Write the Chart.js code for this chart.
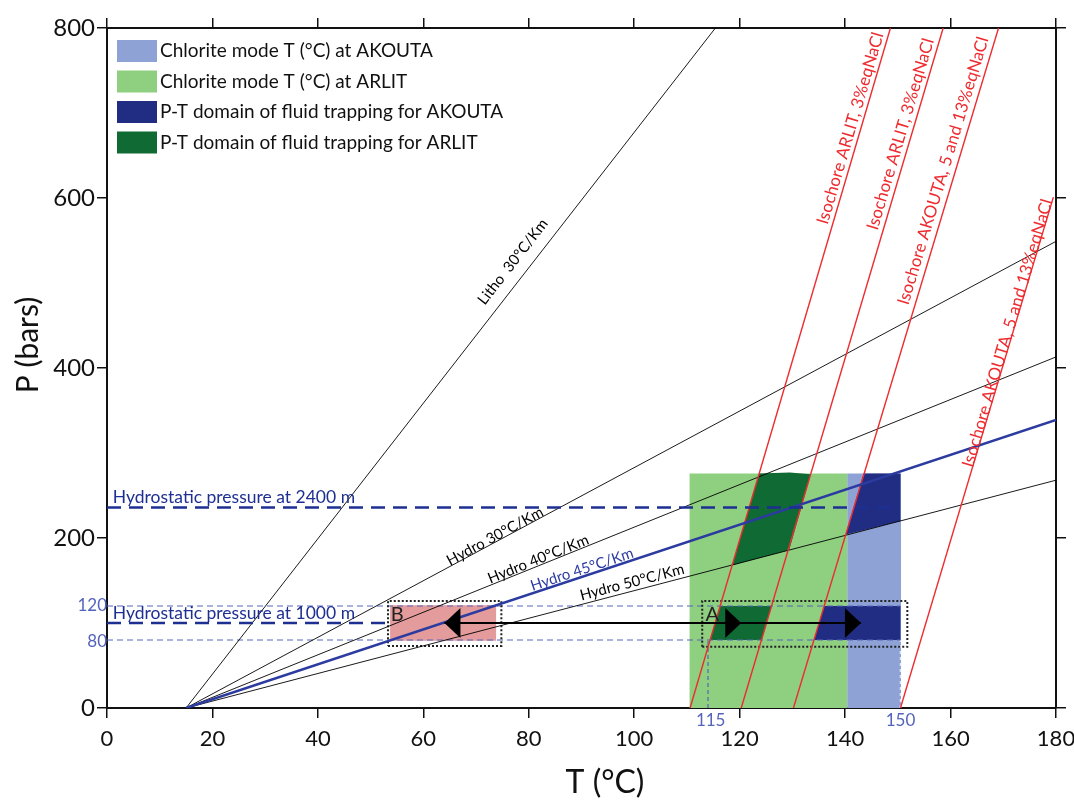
<!DOCTYPE html>
<html>
<head>
<meta charset="utf-8">
<script src="https://cdn.jsdelivr.net/npm/chart.js@4.4.0/dist/chart.umd.min.js"></script>
<style>
html,body{margin:0;padding:0;background:#fff;}
#wrap{width:1074px;height:805px;position:relative;}
</style>
</head>
<body>
<div id="wrap"><canvas id="c" width="1074" height="805"></canvas></div>
<script>
// ---------- DATA ----------
const xTicks = [0, 20, 40, 60, 80, 100, 120, 140, 160, 180];
const yTicks = [0, 200, 400, 600, 800];

// Geothermal gradients  {T (°C), P (bars)}
const litho30 = [{x:15, y:0}, {x:115.4, y:800}];
const hydro30 = [{x:15, y:0}, {x:180, y:549}];
const hydro40 = [{x:15, y:0}, {x:180, y:413}];
const hydro45 = [{x:15, y:0}, {x:180, y:339}];
const hydro50 = [{x:15, y:0}, {x:180, y:268}];

// Isochores
const isoArlitA  = [{x:110.6, y:0}, {x:148.6, y:800}];
const isoArlitB  = [{x:120.3, y:0}, {x:158.6, y:800}];
const isoAkoutaA = [{x:130.2, y:0}, {x:169.1, y:800}];
const isoAkoutaB = [{x:150.5, y:0}, {x:179.5, y:601}];

// Chlorite mode temperature domains
const chloriteArlit  = [{x:110.5,y:0},{x:140.4,y:0},{x:140.4,y:276},{x:110.5,y:276},{x:110.5,y:0}];
const chloriteAkouta = [{x:140.4,y:0},{x:150.6,y:0},{x:150.6,y:276},{x:140.4,y:276},{x:140.4,y:0}];

// P-T domains of fluid trapping
const trapArlitHigh  = [{x:118.6,y:168},{x:123.7,y:276},{x:129.5,y:277},{x:133.5,y:275},{x:129.4,y:186},{x:118.6,y:168}];
const trapAkoutaHigh = [{x:140.1,y:204},{x:143.5,y:276},{x:150.5,y:276},{x:150.5,y:220},{x:140.1,y:204}];
const trapArlitLow   = [{x:114.4,y:80},{x:116.3,y:120},{x:126.1,y:120},{x:124.2,y:80},{x:114.4,y:80}];
const trapAkoutaLow  = [{x:134.1,y:80},{x:136,y:120},{x:150.5,y:120},{x:150.5,y:80},{x:134.1,y:80}];

// Zones A and B
const zoneB   = [{x:53.7,y:79},{x:73.8,y:79},{x:73.8,y:121},{x:53.7,y:121},{x:53.7,y:79}];
const boxB    = [{x:53.3,y:73},{x:74.8,y:73},{x:74.8,y:126},{x:53.3,y:126},{x:53.3,y:73}];
const boxA    = [{x:112.9,y:72},{x:151.8,y:72},{x:151.8,y:126},{x:112.9,y:126},{x:112.9,y:72}];

// Reference pressures
const p120 = [{x:0,y:120},{x:150.5,y:120}];
const p80  = [{x:0,y:80},{x:150.5,y:80}];
const hydrostatic1000 = [{x:0,y:100},{x:53.5,y:100}];
const hydrostatic2400 = [{x:0,y:236},{x:149,y:236}];
const t115 = [{x:114,y:0},{x:114,y:80}];
const t150 = [{x:150.5,y:0},{x:150.5,y:80}];

// Arrow B -> A
const arrowLine  = [{x:64,y:100},{x:143,y:100}];
const arrowLeftTips  = [64];
const arrowRightTips = [120.3, 143];

// Legend
const legendLabels = ['Chlorite mode T (°C) at AKOUTA','Chlorite mode T (°C) at ARLIT','P-T domain of fluid trapping for AKOUTA','P-T domain of fluid trapping for ARLIT'];

// ---------- STYLES ----------
const C = {
  lightBlue:'#8ea2d6', lightGreen:'#8fcf80', darkBlue:'#202d82', darkGreen:'#0f6a33',
  pink:'#e39b9b', red:'#ee2b2f', blue:'#2b3ba0', dashBlue:'#1e2f92', thinBlue:'#5564bb'
};
const legendColors = [C.lightBlue, C.lightGreen, C.darkBlue, C.darkGreen];
const FONT = 'Lato, "Open Sans", sans-serif';

function poly(data, color, order){
  return {data, showLine:true, fill:'shape', backgroundColor:color, borderColor:color, borderWidth:0, pointRadius:0, order};
}
function line(data, color, width, order, dash){
  return {data, showLine:true, fill:false, borderColor:color, borderWidth:width, pointRadius:0, order, borderDash:dash||[]};
}

const datasets = [
  poly(chloriteArlit, C.lightGreen, 20),
  poly(chloriteAkouta, C.lightBlue, 20),
  poly(trapArlitHigh, C.darkGreen, 19),
  poly(trapAkoutaHigh, C.darkBlue, 19),
  poly(trapArlitLow, C.darkGreen, 19),
  poly(trapAkoutaLow, C.darkBlue, 19),
  poly(zoneB, C.pink, 19),
  line(p120, C.thinBlue, 1, 15, [6,4]),
  line(p80, C.thinBlue, 1, 15, [6,4]),
  line(t115, C.thinBlue, 1.2, 15, [4,3]),
  line(t150, '#dfe6f6', 1.5, 15, [3,3]),
  line(boxB, '#222', 2, 14, [2,2]),
  line(boxA, '#222', 2, 14, [2,2]),
  line(litho30, '#000', 0.9, 10),
  line(hydro30, '#000', 0.9, 10),
  line(hydro40, '#000', 0.9, 10),
  line(hydro50, '#000', 0.9, 10),
  line(isoArlitA, C.red, 1.4, 9),
  line(isoArlitB, C.red, 1.4, 9),
  line(isoAkoutaA, C.red, 1.4, 9),
  line(isoAkoutaB, C.red, 1.4, 9),
  line(hydro45, C.blue, 2.5, 8),
  line(hydrostatic1000, C.dashBlue, 2.5, 7, [14,8]),
  line(hydrostatic2400, C.dashBlue, 2.5, 7, [14,8]),
  line(arrowLine, '#000', 2, 6)
];

// ---------- ANNOTATIONS (text along lines etc.) ----------
const lineLabels = [
  {text:'Litho  30°C/Km', line:litho30, at:{x:77,y:525}, color:'#000', size:15},
  {text:'Hydro 30°C/Km', line:hydro30, at:{x:73.6,y:202}, color:'#000', size:15},
  {text:'Hydro 40°C/Km', line:hydro40, at:{x:81.8,y:175}, color:'#000', size:15},
  {text:'Hydro 45°C/Km', line:hydro45, at:{x:90.1,y:163}, color:C.blue, size:15},
  {text:'Hydro 50°C/Km', line:hydro50, at:{x:99.6,y:148}, color:'#000', size:15},
  {text:'Isochore ARLIT, 3%eqNaCl', line:isoArlitA, at:{x:141,y:682}, color:C.red, size:17},
  {text:'Isochore ARLIT, 3%eqNaCl', line:isoArlitB, at:{x:150.5,y:675}, color:C.red, size:17},
  {text:'Isochore AKOUTA, 5 and 13%eqNaCl', line:isoAkoutaA, at:{x:158.6,y:632}, color:C.red, size:17},
  {text:'Isochore AKOUTA, 5 and 13%eqNaCl', line:isoAkoutaB, at:{x:170.8,y:441}, color:C.red, size:17}
];

const annotPlugin = {
  id:'annot',
  afterDatasetsDraw(chart){
    const ctx = chart.ctx, xs = chart.scales.x, ys = chart.scales.y;
    const X = v => xs.getPixelForValue(v), Y = v => ys.getPixelForValue(v);
    ctx.save();
    // arrow heads
    ctx.fillStyle = '#000';
    const hy = Y(arrowLine[0].y);
    arrowLeftTips.forEach(t => {
      const px = X(t);
      ctx.beginPath(); ctx.moveTo(px, hy); ctx.lineTo(px+16, hy-15); ctx.lineTo(px+16, hy+15); ctx.closePath(); ctx.fill();
    });
    arrowRightTips.forEach(t => {
      const px = X(t);
      ctx.beginPath(); ctx.moveTo(px, hy); ctx.lineTo(px-16, hy-15); ctx.lineTo(px-16, hy+15); ctx.closePath(); ctx.fill();
    });
    // rotated labels
    lineLabels.forEach(l => {
      const a = Math.atan2(Y(l.line[1].y)-Y(l.line[0].y), X(l.line[1].x)-X(l.line[0].x));
      ctx.save();
      ctx.translate(X(l.at.x), Y(l.at.y));
      ctx.rotate(a);
      ctx.font = l.size+'px '+FONT;
      ctx.fillStyle = l.color;
      ctx.textAlign = 'center'; ctx.textBaseline = 'middle';
      ctx.fillText(l.text, 0, 0);
      ctx.restore();
    });
    // flat texts
    ctx.font = '17.5px '+FONT;
    ctx.fillStyle = C.dashBlue;
    ctx.textAlign = 'left'; ctx.textBaseline = 'alphabetic';
    ctx.fillText('Hydrostatic pressure at 2400 m', X(1.1), Y(241));
    ctx.fillText('Hydrostatic pressure at 1000 m', X(1.1), Y(105));
    ctx.font = '20px '+FONT;
    ctx.fillStyle = '#222';
    ctx.textBaseline = 'middle';
    ctx.fillText('B', X(53.8), Y(110));
    ctx.fillText('A', X(113.5), Y(110));
    // blue tick values
    ctx.font = '17px '+FONT;
    ctx.fillStyle = C.thinBlue;
    ctx.textAlign = 'right';
    ctx.fillText('120', X(0), Y(121));
    ctx.fillText('80', X(0), Y(78));
    ctx.textAlign = 'center'; ctx.textBaseline = 'top';
    ctx.fillText('115', X(114.5), Y(0)+4);
    ctx.fillText('150', X(150.5), Y(0)+4);
    // legend
    ctx.textAlign = 'left'; ctx.textBaseline = 'middle';
    ctx.font = '19px '+FONT;
    legendLabels.forEach((t,i) => {
      const top = 40 + i*30.5;
      ctx.fillStyle = legendColors[i];
      ctx.fillRect(117, top, 40, 22);
      ctx.fillStyle = '#111';
      ctx.fillText(t, 160, top+11);
    });
    // axis titles
    ctx.fillStyle = '#111';
    ctx.font = '32px '+FONT;
    ctx.textAlign = 'center'; ctx.textBaseline = 'middle';
    ctx.fillText('T (°C)', 605, 783);
    ctx.font = '30px '+FONT;
    ctx.save();
    ctx.translate(28, 345); ctx.rotate(-Math.PI/2);
    ctx.fillText('P (bars)', 0, 0);
    ctx.restore();
    ctx.restore();
  }
};

function fixSize(prop, val){
  return function(s){ s[prop] = val; s.paddingLeft = 0; s.paddingRight = 0; s.paddingTop = 0; s.paddingBottom = 0; };
}
const tickGrid = {drawOnChartArea:false, drawTicks:true, tickLength:10, color:'#111', lineWidth:1.5};

new Chart(document.getElementById('c'), {
  type:'scatter',
  data:{datasets},
  options:{
    responsive:false, animation:false,
    layout:{padding:0},
    plugins:{legend:{display:false}, tooltip:{enabled:false}},
    elements:{line:{tension:0}},
    scales:{
      x:{type:'linear', position:'bottom', min:0, max:180,
        afterBuildTicks: s => { s.ticks = xTicks.map(v=>({value:v})); },
        afterFit: fixSize('height', 97),
        ticks:{font:{family:FONT, size:22}, color:'#111', padding:8},
        grid:tickGrid, border:{display:true, color:'#111', width:2}},
      x2:{type:'linear', position:'top', min:0, max:180,
        afterBuildTicks: s => { s.ticks = xTicks.map(v=>({value:v})); },
        afterFit: fixSize('height', 28),
        ticks:{display:false},
        grid:tickGrid, border:{display:true, color:'#111', width:2}},
      y:{type:'linear', position:'left', min:0, max:800,
        afterBuildTicks: s => { s.ticks = yTicks.map(v=>({value:v})); },
        afterFit: fixSize('width', 107),
        ticks:{font:{family:FONT, size:24}, color:'#111', padding:2},
        grid:tickGrid, border:{display:true, color:'#111', width:2}},
      y2:{type:'linear', position:'right', min:0, max:800,
        afterBuildTicks: s => { s.ticks = yTicks.map(v=>({value:v})); },
        afterFit: fixSize('width', 18),
        ticks:{display:false},
        grid:tickGrid, border:{display:true, color:'#111', width:2}}
    }
  },
  plugins:[annotPlugin]
});
</script>
</body>
</html>
